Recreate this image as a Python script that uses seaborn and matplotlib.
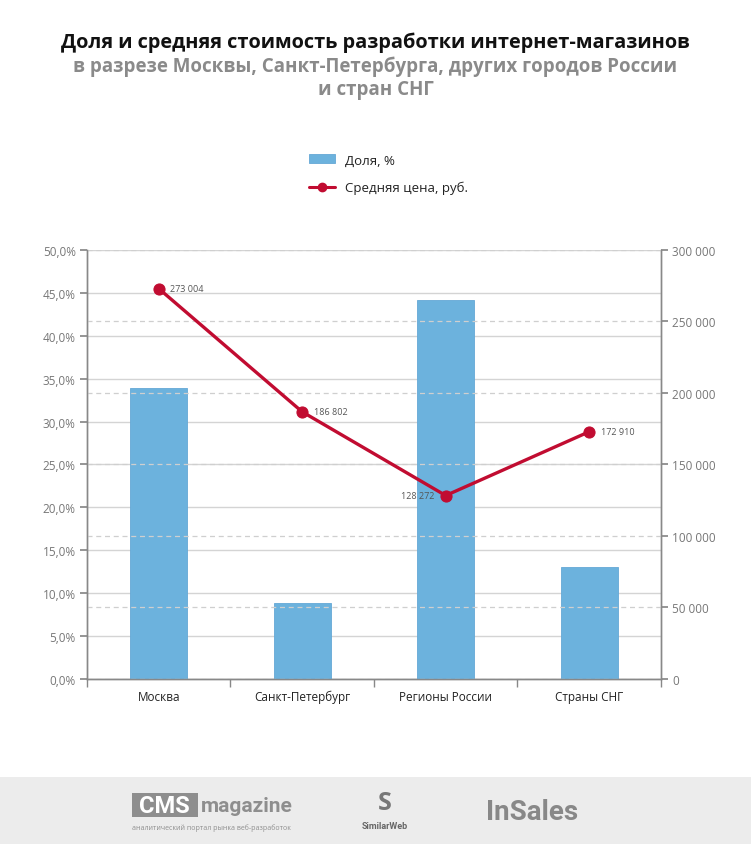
import numpy as np
import seaborn as sns
import matplotlib.pyplot as plt
from matplotlib.patches import Patch, Rectangle
from matplotlib.lines import Line2D
from matplotlib.ticker import FixedLocator

# data
categories = ['Москва', 'Санкт-Петербург', 'Регионы России', 'Страны СНГ']
share_pct = [33.9, 8.8, 44.2, 13.0]
avg_price = [273004, 186802, 128272, 172910]
label_side = ['right', 'right', 'left', 'right']

left_ticks = np.arange(0, 50.1, 5)
right_ticks = np.arange(0, 300001, 50000)

bar_color = '#6cb2dd'
line_color = '#c10c31'
tick_color = '#777777'

sns.set_theme(style='white')
plt.rcParams['font.family'] = ['Open Sans', 'DejaVu Sans']

fig = plt.figure(figsize=(7.51, 8.45), dpi=100)
ax = fig.add_axes([0.1158, 0.1953, 0.7643, 0.5077])

sns.barplot(x=categories, y=share_pct, ax=ax, color=bar_color, width=0.4,
            saturation=1, edgecolor='#64a8d6', linewidth=0.6, zorder=3)
ax.set_ylim(0, 50)
ax.set_xlim(-0.5, len(categories) - 0.5)
ax.set_yticks(left_ticks)
ax.set_yticklabels([f'{v:.1f}'.replace('.', ',') + '%' for v in left_ticks])
ax.yaxis.grid(True, color='#d4d4d4', linewidth=1, zorder=0)
ax.set_axisbelow(True)
ax.xaxis.set_minor_locator(FixedLocator(np.arange(-0.5, len(categories), 1)))
ax.tick_params(axis='x', which='major', length=0, pad=8, labelsize=8.5, labelcolor='#222222')
ax.tick_params(axis='x', which='minor', length=6, color='#888888', direction='out', bottom=True)
ax.tick_params(axis='y', length=5, color='#888888', direction='out', left=True,
               labelsize=8.5, labelcolor=tick_color, pad=3)

ax2 = ax.twinx()
sns.lineplot(x=np.arange(len(categories)), y=avg_price, ax=ax2, color=line_color,
             linewidth=2.4, marker='o', markersize=8, markeredgecolor=line_color, zorder=5)
ax2.set_ylim(0, 300000)
ax2.set_yticks(right_ticks)
ax2.set_yticklabels([f'{int(v):,}'.replace(',', ' ') for v in right_ticks])
ax2.yaxis.grid(True, color='#cfcfcf', linewidth=0.9, linestyle=(0, (4, 3)))
ax2.tick_params(axis='y', length=5, color='#888888', direction='out', right=True,
                labelsize=8.5, labelcolor=tick_color, pad=3)
ax2.set_ylabel('')

for i, (v, side) in enumerate(zip(avg_price, label_side)):
    txt = f'{v:,}'.replace(',', ' ')
    dx = 0.08 if side == 'right' else -0.08
    ax2.text(i + dx, v, txt, ha='left' if side == 'right' else 'right', va='center',
             fontsize=6.5, color='#555555', zorder=6)

for a in (ax, ax2):
    a.spines['top'].set_visible(False)
    for s in ('left', 'right', 'bottom'):
        a.spines[s].set_color('#888888')
        a.spines[s].set_linewidth(1)

# titles
fig.text(0.5, 0.949, 'Доля и средняя стоимость разработки интернет-магазинов',
         ha='center', va='center', fontsize=14.3, fontweight='bold', color='#111111')
fig.text(0.5, 0.921, 'в разрезе Москвы, Санкт-Петербурга, других городов России',
         ha='center', va='center', fontsize=13.5, fontweight='bold', color='#8a8a8a')
fig.text(0.5, 0.893, 'и стран СНГ',
         ha='center', va='center', fontsize=13.5, fontweight='bold', color='#8a8a8a')

# legend
handles = [Patch(facecolor=bar_color, edgecolor='#64a8d6', linewidth=0.6),
           Line2D([0], [0], color=line_color, linewidth=2.2, marker='o', markersize=6)]
fig.legend(handles, ['Доля, %', 'Средняя цена, руб.'], loc='center left',
           bbox_to_anchor=(0.395, 0.793), frameon=False, fontsize=9.5,
           labelspacing=1.1, handlelength=2.0, handleheight=0.7,
           labelcolor='#222222')

# footer band with sponsor names
fig.patches.append(Rectangle((0, 0), 1, 0.079, transform=fig.transFigure,
                             facecolor='#ececec', edgecolor='none', zorder=0))
fig.patches.append(Rectangle((0.176, 0.032), 0.087, 0.028, transform=fig.transFigure,
                             facecolor='#8e8e8e', edgecolor='none', zorder=1))
fig.text(0.2195, 0.046, 'CMS', ha='center', va='center', fontsize=17,
         fontweight='bold', color='white', family=['Roboto', 'DejaVu Sans'])
fig.text(0.268, 0.045, 'magazine', ha='left', va='center', fontsize=15,
         fontweight='bold', color='#8e8e8e', family=['Roboto', 'DejaVu Sans'])
fig.text(0.176, 0.020, 'аналитический портал рынка веб-разработок', ha='left',
         va='center', fontsize=5, color='#8e8e8e')
fig.text(0.512, 0.022, 'SimilarWeb', ha='center', va='center', fontsize=6.5,
         fontweight='bold', color='#666666', family=['Roboto', 'DejaVu Sans'])
fig.text(0.512, 0.049, 'S', ha='center', va='center', fontsize=18,
         fontweight='bold', color='#777777')
fig.text(0.708, 0.039, 'InSales', ha='center', va='center', fontsize=20,
         fontweight='bold', color='#888888', family=['Roboto', 'DejaVu Sans'])

fig.savefig('out.png', dpi=100, facecolor='white')
